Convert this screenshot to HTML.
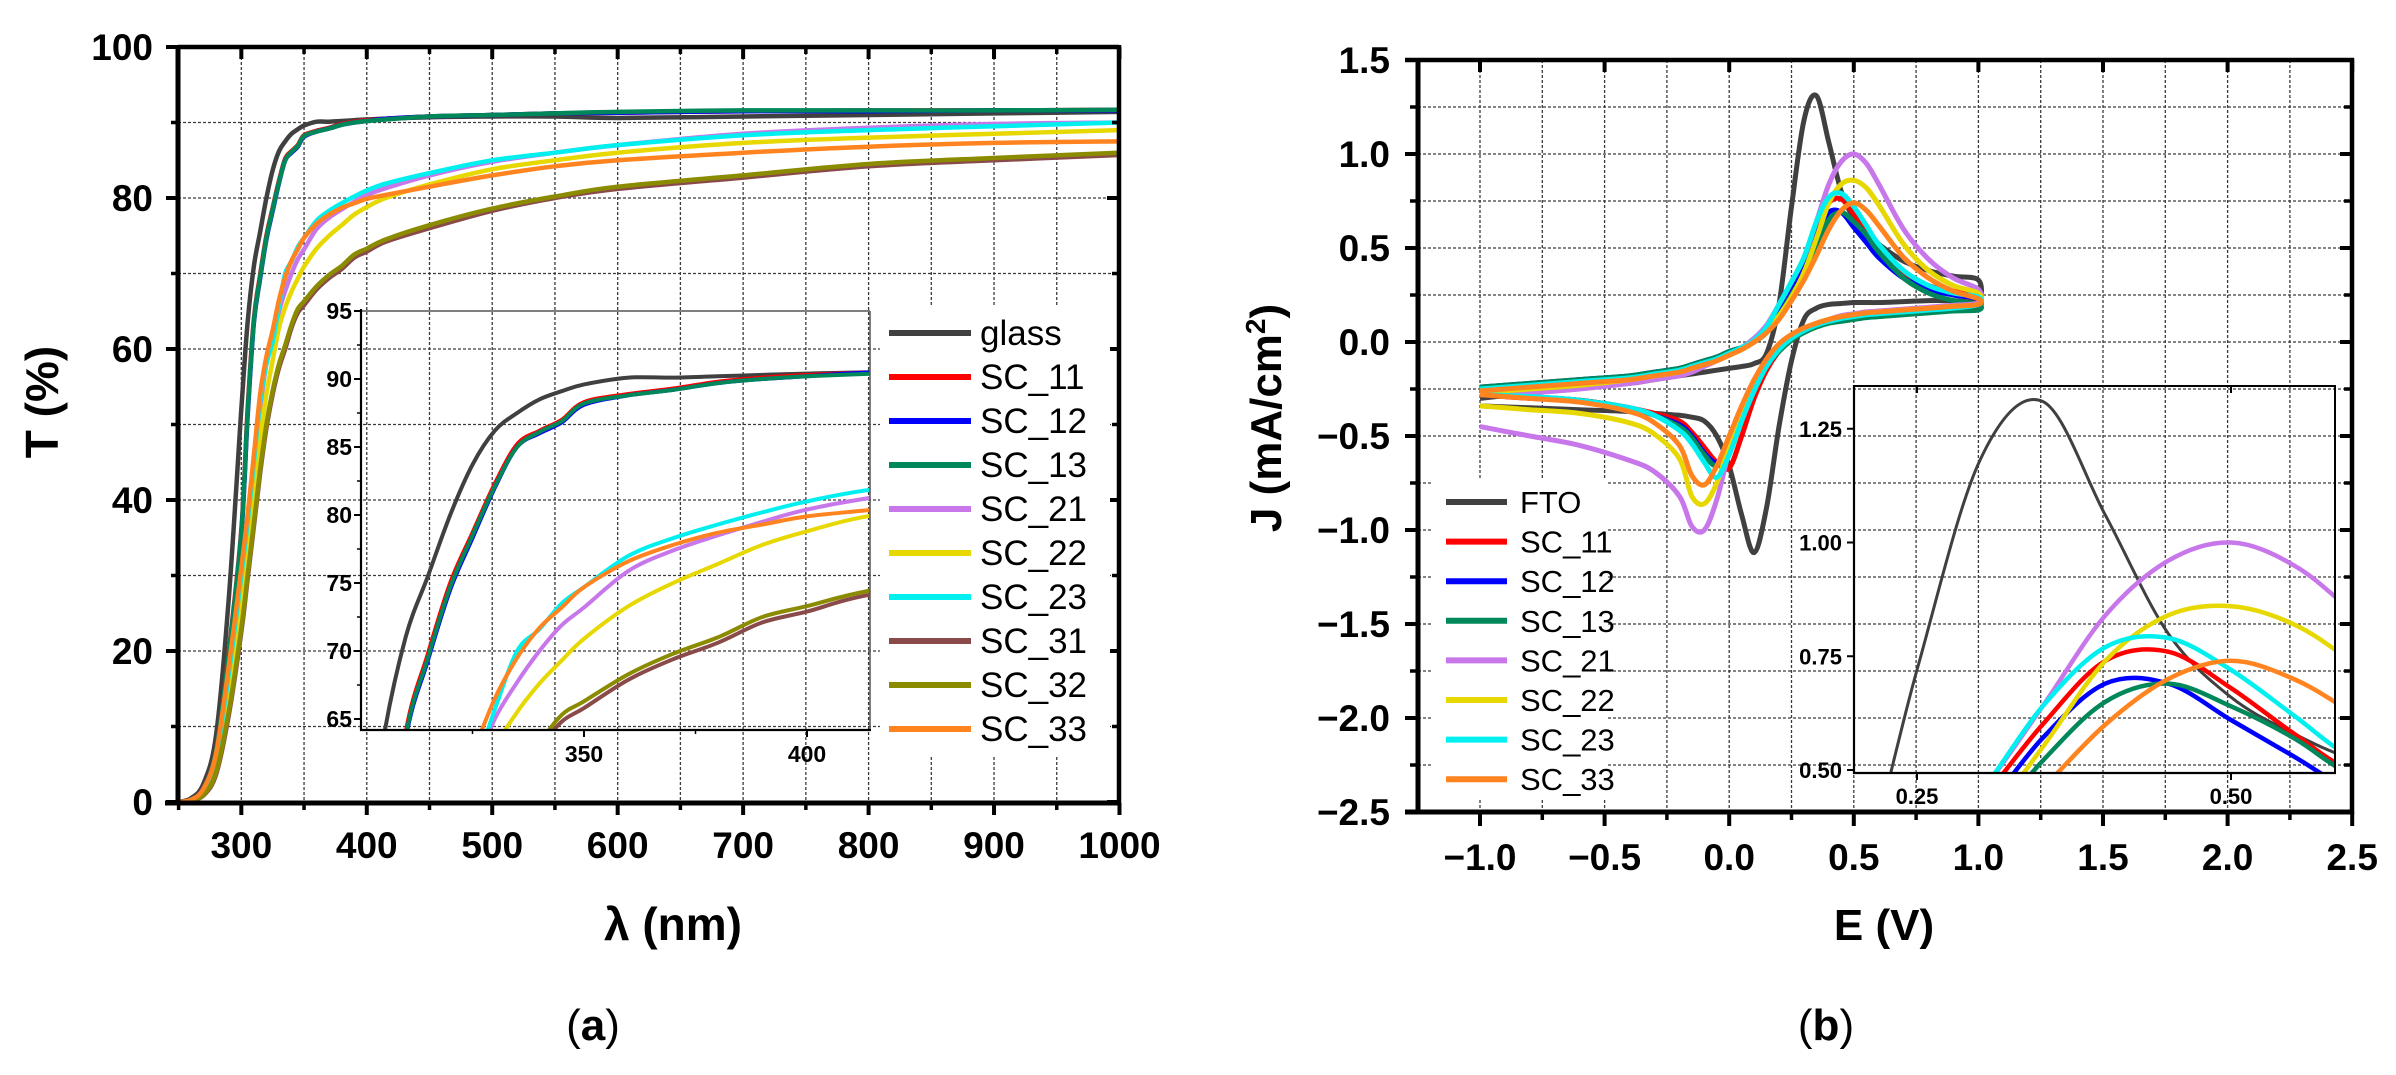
<!DOCTYPE html>
<html><head><meta charset="utf-8">
<style>
html,body{margin:0;padding:0;background:#fff;width:2396px;height:1075px;overflow:hidden;}
svg{display:block;}
text{font-family:"Liberation Sans",Arial,sans-serif;}
</style></head>
<body>
<svg id="fig" width="2396" height="1075" viewBox="0 0 2396 1075" xmlns="http://www.w3.org/2000/svg">
<rect x="0" y="0" width="2396" height="1075" fill="#fff"/>
<defs>
<clipPath id="clipL"><rect x="178" y="47" width="941" height="756"/></clipPath>
<clipPath id="clipLI"><rect x="361" y="311" width="509" height="419"/></clipPath>
<clipPath id="clipR"><rect x="1418" y="60" width="934" height="752"/></clipPath>
<clipPath id="clipRI"><rect x="1854" y="387" width="481" height="386"/></clipPath>
</defs>
<g id="gL"></g>
<g id="gR"></g>
<text x="593" y="1040" font-family="Liberation Serif,serif" font-size="44" text-anchor="middle">(<tspan font-weight="bold">a</tspan>)</text>
<text x="1826" y="1040" font-family="Liberation Serif,serif" font-size="44" text-anchor="middle">(<tspan font-weight="bold">b</tspan>)</text>
</svg>
<script>
// ---------- Data: transmittance ----------
const wl = [250,260,270,280,290,300,305,310,315,320,325,330,335,340,345,350,360,370,380,390,400,415,450,500,550,600,700,800,900,1000];
const tNames = ["glass","SC_11","SC_12","SC_13","SC_21","SC_22","SC_23","SC_31","SC_32","SC_33"];
const tColors = ["#404040","#ff0000","#0000ff","#00875a","#c877ea","#e6d800","#00f0f0","#8b4a4a","#8b8b00","#ff8420"];
const tGlass = [0,0.5,2.5,9,27,52,63.5,71,75.5,80,83.7,86.2,87.5,88.5,89.1,89.6,90.1,90.1,90.2,90.3,90.4,90.5,90.7,90.8,90.8,90.6,90.8,91,91.2,91.4];
const t11 = [0,0.3,2,7,20,36,52,64,69.8,75,78.7,82.3,85.2,86.2,87,88.3,88.9,89.3,89.8,90.1,90.3,90.5,90.8,91,91.2,91.3,91.5,91.6,91.6,91.7];
const t12 = [0,0.3,1.9,6.8,19.5,35.5,51,63.5,69.3,74.5,78.3,82,85,86,86.8,88.1,88.8,89.2,89.7,90,90.2,90.5,90.8,91,91.2,91.3,91.5,91.5,91.6,91.6];
const t13 = [0,0.3,1.9,6.9,19.7,35.7,51.5,63.7,69.5,74.7,78.5,82.1,85,86.1,86.9,88.2,88.8,89.2,89.7,90,90.2,90.4,90.8,91,91.2,91.4,91.6,91.6,91.6,91.7];
const t21 = [0,0.2,1.5,6,16,29,36,44,52,58,61,65,67.7,70,71.9,73.2,75.9,77.4,78.5,79.5,80.4,81.3,83,84.8,86,87,88.5,89.3,89.8,90];
const t22 = [0,0.2,1.3,5,14,26,33,40,48,54,58.5,62.8,65.5,67.6,69.3,70.9,73.3,75,76.4,77.8,78.8,80,81.8,83.8,85,86,87.3,88,88.5,89];
const t23 = [0,0.2,1.5,6,17,30,37,45,53,58,61,65.7,70,71.6,73.5,74.7,77,78.3,79.3,80.2,81,81.9,83.3,85,86,87,88.3,89,89.5,90];
const t31 = [0,0.2,0.9,3.7,11.5,22.5,29.5,36.5,43.5,49.5,54,57.5,60,62.8,64.8,65.8,67.9,69.4,70.6,72.1,72.9,74.2,76,78.3,80,81.2,82.7,84.2,85,85.7];
const t32 = [0,0.2,1,4,12,23,30,37,44,50,54.5,58,60.5,63.2,65.3,66.3,68.3,69.8,71,72.5,73.3,74.5,76.4,78.6,80.2,81.5,83,84.5,85.3,86];
const t33 = [0,0.3,1.8,6.5,18,31,38,46,54,59,62.5,66.5,69.5,71.7,73.2,74.7,76.6,77.8,78.7,79.3,79.9,80.4,81.5,83,84.2,85,86,86.8,87.3,87.5];
const tSeries = [tGlass,t11,t12,t13,t21,t22,t23,t31,t32,t33];
const tXTicks = [300,400,500,600,700,800,900,1000];
const tYTicks = [0,20,40,60,80,100];
const tInsetXTicks = [350,400];
const tInsetYTicks = [65,70,75,80,85,90,95];

// ---------- Data: cyclic voltammetry ----------
const eGrid = [-1,-0.8,-0.6,-0.4,-0.3,-0.2,-0.15,-0.1,-0.05,0,0.05,0.1,0.15,0.2,0.25,0.3,0.35,0.4,0.45,0.5,0.55,0.6,0.7,0.8,0.9,1.0];
const cvNames = ["FTO","SC_11","SC_12","SC_13","SC_21","SC_22","SC_23","SC_33"];
const cvColors = ["#404040","#ff0000","#0000ff","#00875a","#c877ea","#e6d800","#00f0f0","#ff8420"];
const fFTO = [-0.3,-0.27,-0.24,-0.22,-0.2,-0.18,-0.17,-0.16,-0.15,-0.14,-0.13,-0.115,-0.06,0.2,0.72,1.18,1.31,1.06,0.8,0.66,0.58,0.52,0.43,0.38,0.35,0.33];
const rFTO = [-0.34,-0.35,-0.36,-0.37,-0.38,-0.39,-0.4,-0.42,-0.5,-0.66,-0.92,-1.12,-0.88,-0.45,-0.1,0.12,0.18,0.2,0.205,0.21,0.21,0.21,0.215,0.22,0.22,0.22];
const f11 = [-0.25,-0.23,-0.21,-0.19,-0.17,-0.15,-0.13,-0.11,-0.09,-0.06,-0.03,0.0,0.06,0.16,0.29,0.43,0.6,0.74,0.76,0.68,0.58,0.49,0.37,0.3,0.27,0.25];
const r11 = [-0.28,-0.3,-0.31,-0.35,-0.38,-0.42,-0.48,-0.56,-0.64,-0.67,-0.5,-0.3,-0.15,-0.05,0.01,0.06,0.09,0.11,0.12,0.13,0.14,0.15,0.16,0.17,0.18,0.19];
const f12 = [-0.24,-0.22,-0.2,-0.18,-0.16,-0.14,-0.12,-0.1,-0.08,-0.05,-0.03,0.0,0.06,0.15,0.27,0.4,0.57,0.69,0.69,0.61,0.53,0.45,0.34,0.28,0.25,0.23];
const r12 = [-0.27,-0.29,-0.31,-0.35,-0.39,-0.44,-0.5,-0.59,-0.64,-0.56,-0.4,-0.25,-0.12,-0.04,0.02,0.06,0.09,0.11,0.12,0.13,0.14,0.15,0.16,0.17,0.18,0.19];
const f13 = [-0.24,-0.22,-0.2,-0.18,-0.16,-0.14,-0.12,-0.1,-0.08,-0.05,-0.03,0.0,0.05,0.14,0.25,0.36,0.52,0.65,0.69,0.64,0.57,0.48,0.34,0.26,0.22,0.2];
const r13 = [-0.27,-0.29,-0.31,-0.35,-0.39,-0.45,-0.51,-0.6,-0.66,-0.58,-0.41,-0.26,-0.13,-0.05,0.01,0.05,0.08,0.1,0.11,0.12,0.13,0.135,0.145,0.155,0.165,0.17];
const f21 = [-0.28,-0.27,-0.25,-0.22,-0.2,-0.18,-0.16,-0.13,-0.1,-0.07,-0.03,0.02,0.09,0.2,0.32,0.45,0.64,0.84,0.96,1.0,0.95,0.84,0.6,0.44,0.34,0.28];
const r21 = [-0.45,-0.5,-0.55,-0.63,-0.69,-0.82,-0.98,-1.0,-0.84,-0.58,-0.38,-0.22,-0.1,-0.02,0.03,0.07,0.1,0.12,0.14,0.15,0.16,0.165,0.175,0.185,0.195,0.21];
const f22 = [-0.27,-0.25,-0.23,-0.2,-0.18,-0.16,-0.14,-0.12,-0.1,-0.07,-0.04,0.0,0.06,0.14,0.24,0.37,0.55,0.74,0.84,0.86,0.82,0.73,0.52,0.38,0.3,0.26];
const r22 = [-0.34,-0.36,-0.38,-0.43,-0.49,-0.62,-0.82,-0.86,-0.75,-0.55,-0.37,-0.22,-0.1,-0.02,0.03,0.07,0.1,0.12,0.135,0.145,0.155,0.16,0.17,0.18,0.19,0.2];
const f23 = [-0.25,-0.23,-0.21,-0.19,-0.17,-0.15,-0.13,-0.11,-0.09,-0.06,-0.03,0.01,0.08,0.2,0.32,0.45,0.64,0.77,0.79,0.72,0.62,0.52,0.38,0.3,0.26,0.24];
const r23 = [-0.28,-0.29,-0.31,-0.35,-0.39,-0.47,-0.54,-0.64,-0.72,-0.6,-0.42,-0.26,-0.13,-0.04,0.02,0.06,0.09,0.11,0.125,0.135,0.145,0.15,0.16,0.17,0.18,0.2];
const f33 = [-0.26,-0.24,-0.22,-0.2,-0.18,-0.16,-0.14,-0.12,-0.1,-0.07,-0.04,0.0,0.05,0.12,0.22,0.33,0.46,0.6,0.7,0.74,0.7,0.62,0.45,0.34,0.27,0.23];
const r33 = [-0.28,-0.3,-0.32,-0.37,-0.43,-0.55,-0.71,-0.76,-0.66,-0.5,-0.34,-0.2,-0.09,-0.01,0.04,0.075,0.1,0.12,0.135,0.145,0.155,0.16,0.17,0.18,0.19,0.2];
const cvFwd = [fFTO,f11,f12,f13,f21,f22,f23,f33];
const cvRev = [rFTO,r11,r12,r13,r21,r22,r23,r33];
const cvXTicks = [-1.0,-0.5,0.0,0.5,1.0,1.5,2.0,2.5];
const cvYTicks = [1.5,1.0,0.5,0.0,-0.5,-1.0,-1.5,-2.0,-2.5];
const cvInsetXTicks = [0.25,0.50];
const cvInsetYTicks = [0.50,0.75,1.00,1.25];

// ---------- scales ----------
const xL = v => 178.6 + (v-250)*1.2545;
const yL = v => 802 - v*7.55;
const xLI = v => 361 + (v-300)*4.46;
const yLI = v => 379 + (90-v)*13.6;
const xR = v => 1480 + (v+1)*249.2;
const yR = v => 342 - v*188;
const xRI = v => 1917 + (v-0.25)*1256;
const yRI = v => 770 - (v-0.5)*455;

const NS = "http://www.w3.org/2000/svg";
function mk(tag, parent){ const e=document.createElementNS(NS,tag); parent.appendChild(e); return e; }
function line(parent,x1,y1,x2,y2,stroke,w,dash){
  const l=mk('line',parent);
  l.setAttribute('x1',x1);l.setAttribute('y1',y1);l.setAttribute('x2',x2);l.setAttribute('y2',y2);
  l.setAttribute('stroke',stroke);l.setAttribute('stroke-width',w);
  if(dash) l.setAttribute('stroke-dasharray',dash);
  return l;
}
function txt(parent,x,y,s,size,anchor,weight){
  const t=mk('text',parent);
  t.setAttribute('x',x);t.setAttribute('y',y);t.setAttribute('font-size',size);
  t.setAttribute('text-anchor',anchor||'middle');
  if(weight) t.setAttribute('font-weight',weight);
  t.textContent=s; return t;
}
function smooth(pts){
  let d='M'+pts[0][0].toFixed(1)+','+pts[0][1].toFixed(1);
  for(let i=0;i<pts.length-1;i++){
    const p0=pts[Math.max(0,i-1)],p1=pts[i],p2=pts[i+1],p3=pts[Math.min(pts.length-1,i+2)];
    const c1=[p1[0]+(p2[0]-p0[0])/6,p1[1]+(p2[1]-p0[1])/6];
    const c2=[p2[0]-(p3[0]-p1[0])/6,p2[1]-(p3[1]-p1[1])/6];
    d+=' C'+c1[0].toFixed(1)+','+c1[1].toFixed(1)+' '+c2[0].toFixed(1)+','+c2[1].toFixed(1)+' '+p2[0].toFixed(1)+','+p2[1].toFixed(1);
  }
  return d;
}
const GRID='#3a3a3a';

// ================= LEFT CHART =================
const gL=document.getElementById('gL');
for(let v=300; v<=950; v+=50){
  const g=line(gL,xL(v),47,xL(v),803,GRID,1.3,'3,2');
  
  
}
for(let v=10; v<=90; v+=10){
  const g=line(gL,178,yL(v),1119,yL(v),GRID,1.3,'3,2');
  
  
}
const gLS=mk('g',gL); gLS.setAttribute('clip-path','url(#clipL)');


tSeries.forEach((s,k)=>{
  const p=mk('path',gLS);
  
  
  p.setAttribute('d',smooth(wl.map((w,i)=>[xL(w),yL(s[i])])));
  p.setAttribute('fill','none');p.setAttribute('stroke',tColors[k]);p.setAttribute('stroke-width',4.5);
  p.setAttribute('stroke-linejoin','round');
});
const gLI=mk('g',gL);


const liS=mk('g',gLI); liS.setAttribute('clip-path','url(#clipLI)');
tSeries.forEach((s,k)=>{
  const p=mk('path',liS);
  
  
  p.setAttribute('d',smooth(wl.map((w,i)=>[xLI(w),yLI(s[i])])));
  p.setAttribute('fill','none');p.setAttribute('stroke',tColors[k]);p.setAttribute('stroke-width',4);
});
line(gLI,361,311,870,311,'#555',1.5);
line(gLI,870,311,870,730,'#555',1.5);
line(gLI,361,309,361,731,'#000',2.2);
line(gLI,360,730,871,730,'#000',2.2);
tInsetYTicks.forEach(v=>{
  line(gLI,354,yLI(v),361,yLI(v),'#000',2);
  const t=txt(gLI,352,yLI(v)+8,String(v),23,'end','bold');
  
  
});
for(let v=67.5; v<95; v+=5) line(gLI,357,yLI(v),361,yLI(v),'#000',1.5);
tInsetXTicks.forEach(v=>{
  line(gLI,xLI(v),730,xLI(v),737,'#000',2);
  const t=txt(gLI,xLI(v),762,String(v),23,'middle','bold');
  
  
});
[325,375].forEach(v=>line(gLI,xLI(v),730,xLI(v),734,'#000',1.5));
line(gL,178,47,1119,47,'#000',4.5);
line(gL,1119,45,1119,805,'#000',4.5);
line(gL,165,803,1121,803,'#000',5);
line(gL,178,45,178,805,'#000',5);
tXTicks.forEach(v=>{
  line(gL,xL(v),803,xL(v),815,'#000',4);
  line(gL,xL(v),47,xL(v),59,'#000',4);
  const t=txt(gL,xL(v),858,String(v),37,'middle','bold');
  
  
});
for(let v=250; v<1000; v+=100){ line(gL,xL(v),803,xL(v),810,'#000',3.5); line(gL,xL(v),47,xL(v),54,'#000',3.5); }
tYTicks.forEach(v=>{
  line(gL,166,yL(v),178,yL(v),'#000',4);
  line(gL,1107,yL(v),1119,yL(v),'#000',4);
  const t=txt(gL,153,yL(v)+13,String(v),37,'end','bold');
  
  
});
for(let v=10; v<100; v+=20){ line(gL,171,yL(v),178,yL(v),'#000',3.5); line(gL,1112,yL(v),1119,yL(v),'#000',3.5); }
let tt=txt(gL,673,940,'λ (nm)',46,'middle','bold');


tt=txt(gL,0,0,'T (%)',46,'middle','bold');
tt.setAttribute('transform','translate(58,402) rotate(-90)');


const lgL=mk('g',gL);


const lgLbg=mk('rect',lgL);
lgLbg.setAttribute('x',880);lgLbg.setAttribute('y',305);lgLbg.setAttribute('width',230);lgLbg.setAttribute('height',450);lgLbg.setAttribute('fill','#fff');
tNames.forEach((n,k)=>{
  const y=333+k*44;
  const l=line(lgL,889,y,971,y,tColors[k],6);
  
  
  const t=txt(lgL,980,y+12,n,35,'start');
  
  
});

// ================= RIGHT CHART =================
const gR=document.getElementById('gR');
for(let v=-1.25; v<2.5; v+=0.25){
  const g=line(gR,xR(v),60,xR(v),812,GRID,1.3,'3,2');
  
  
}
for(let v=-2.25; v<1.5; v+=0.25){
  const g=line(gR,1418,yR(v),2352,yR(v),GRID,1.3,'3,2');
  
  
}
function loop(k,xs,ys){
  const pts=eGrid.map((e,i)=>[xs(e),ys(cvFwd[k][i])]);
  for(let i=eGrid.length-1;i>=0;i--) pts.push([xs(eGrid[i]),ys(cvRev[k][i])]);
  return smooth(pts);
}
const gRS=mk('g',gR); gRS.setAttribute('clip-path','url(#clipR)');


cvNames.forEach((n,k)=>{
  const p=mk('path',gRS);
  
  
  p.setAttribute('d',loop(k,xR,yR));
  p.setAttribute('fill','none');p.setAttribute('stroke',cvColors[k]);p.setAttribute('stroke-width',5);
  p.setAttribute('stroke-linejoin','round');
});
const gRI=mk('g',gR);


const riS=mk('g',gRI); riS.setAttribute('clip-path','url(#clipRI)');
cvNames.forEach((n,k)=>{
  const p=mk('path',riS);
  
  
  p.setAttribute('d',loop(k,xRI,yRI));
  p.setAttribute('fill','none');p.setAttribute('stroke',cvColors[k]);p.setAttribute('stroke-width',k===0?3:4.5);
});
line(gRI,1854,386,2336,386,'#000',2);
line(gRI,2335,386,2335,773,'#000',2);
line(gRI,1854,385,1854,774,'#000',2.2);
line(gRI,1853,773,2336,773,'#000',2.2);
cvInsetYTicks.forEach(v=>{
  line(gRI,1847,yRI(v),1854,yRI(v),'#000',2);
  const t=txt(gRI,1842,yRI(v)+8,v.toFixed(2),22,'end','bold');
  
  
});
cvInsetXTicks.forEach(v=>{
  line(gRI,xRI(v),773,xRI(v),780,'#000',2);
  line(gRI,xRI(v),386,xRI(v),393,'#000',2);
  const t=txt(gRI,xRI(v),804,v.toFixed(2),22,'middle','bold');
  
  
});
line(gR,1405,60,2354,60,'#000',4.5);
line(gR,2352,58,2352,814,'#000',4.5);
line(gR,1405,812,2354,812,'#000',5);
line(gR,1418,58,1418,814,'#000',5);
cvXTicks.forEach(v=>{
  line(gR,xR(v),812,xR(v),826,'#000',4);
  line(gR,xR(v),60,xR(v),72,'#000',4);
  const t=txt(gR,xR(v),870,v.toFixed(1).replace('-','\u2212'),37,'middle','bold');
  
  
});
for(let v=-0.75; v<2.5; v+=0.5){ line(gR,xR(v),812,xR(v),820,'#000',3.5); }
cvYTicks.forEach(v=>{
  line(gR,1405,yR(v),1418,yR(v),'#000',4);
  line(gR,2340,yR(v),2352,yR(v),'#000',4);
  const t=txt(gR,1390,yR(v)+13,v.toFixed(1).replace('-','\u2212'),37,'end','bold');
  
  
});
for(let v=-2.25; v<1.5; v+=0.5){ line(gR,1410,yR(v),1418,yR(v),'#000',3.5); line(gR,2344,yR(v),2352,yR(v),'#000',3.5); }
tt=txt(gR,1884,940,'E (V)',44,'middle','bold');


tt=txt(gR,0,0,'J (mA/cm',44,'middle','bold');
const sup=mk('tspan',tt); sup.setAttribute('dy',-16); sup.setAttribute('font-size',28); sup.textContent='2';
const cl=mk('tspan',tt); cl.setAttribute('dy',16); cl.textContent=')';
tt.setAttribute('transform','translate(1281,418) rotate(-90)');


const lgR=mk('g',gR);


const lgRbg=mk('rect',lgR);
lgRbg.setAttribute('x',1432);lgRbg.setAttribute('y',480);lgRbg.setAttribute('width',175);lgRbg.setAttribute('height',320);lgRbg.setAttribute('fill','#fff');
cvNames.forEach((n,k)=>{
  const y=502+k*39.6;
  const l=line(lgR,1446,y,1507,y,cvColors[k],6);
  
  
  const t=txt(lgR,1520,y+11,n,31,'start');
  
  
});
</script>
</body></html>
